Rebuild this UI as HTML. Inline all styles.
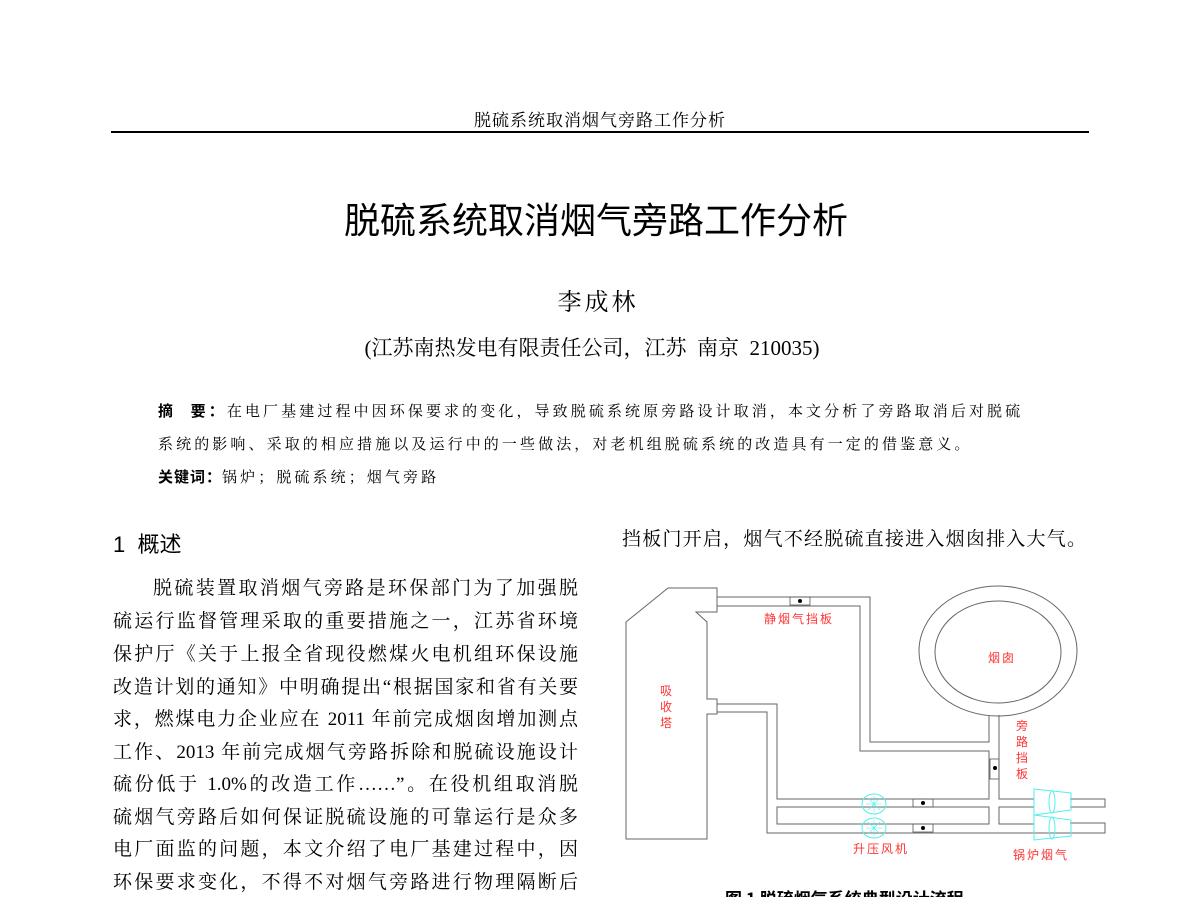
<!DOCTYPE html>
<html><head><meta charset="utf-8"><style>
body{margin:0;width:1200px;height:897px;background:#fff;position:relative;overflow:hidden;font-family:"Liberation Serif","Noto Serif CJK SC","Noto Sans CJK SC",serif;color:#000}
.a{position:absolute;white-space:nowrap}
.j{position:absolute;left:113px;width:465px;font-size:19px;text-align:justify;text-align-last:justify;white-space:nowrap;line-height:24px}
.sans{font-family:"Liberation Sans","Noto Sans CJK SC",sans-serif}
.ab{font-size:15px;letter-spacing:3.1px}
</style></head><body>
<div class="a" style="left:0;width:1200px;top:106px;text-align:center;font-size:17px;letter-spacing:1px">脱硫系统取消烟气旁路工作分析</div>
<div class="a" style="left:111px;top:131px;width:978px;height:2px;background:#000"></div>
<div class="a sans" style="left:0;width:1192px;top:192px;text-align:center;font-size:36px">脱硫系统取消烟气旁路工作分析</div>
<div class="a" style="left:0;width:1196px;top:282px;text-align:center;font-size:24px;letter-spacing:3px">李成林</div>
<div class="a" style="left:0;width:1184px;top:332px;text-align:center;font-size:21px">(江苏南热发电有限责任公司，江苏&nbsp; 南京&nbsp; 210035)</div>
<div class="a ab" style="left:158px;top:400px"><b class="sans">摘&nbsp;&nbsp;要：</b>在电厂基建过程中因环保要求的变化，导致脱硫系统原旁路设计取消，本文分析了旁路取消后对脱硫</div>
<div class="a ab" style="left:158px;top:433px">系统的影响、采取的相应措施以及运行中的一些做法，对老机组脱硫系统的改造具有一定的借鉴意义。</div>
<div class="a ab" style="left:158px;top:466px;letter-spacing:1px"><b class="sans">关键词：</b><span style="letter-spacing:3.1px">锅炉；脱硫系统；烟气旁路</span></div>
<div class="a sans" style="left:113px;top:527px;font-size:22px">1&nbsp; 概述</div>
<div class="j" style="top:577px;left:153px;width:425px">脱硫装置取消烟气旁路是环保部门为了加强脱</div>
<div class="j" style="top:610px">硫运行监督管理采取的重要措施之一，江苏省环境</div>
<div class="j" style="top:643px">保护厅《关于上报全省现役燃煤火电机组环保设施</div>
<div class="j" style="top:676px">改造计划的通知》中明确提出“根据国家和省有关要</div>
<div class="j" style="top:708px">求，燃煤电力企业应在 2011 年前完成烟囱增加测点</div>
<div class="j" style="top:741px">工作、2013 年前完成烟气旁路拆除和脱硫设施设计</div>
<div class="j" style="top:773px">硫份低于 1.0%的改造工作……”。在役机组取消脱</div>
<div class="j" style="top:806px">硫烟气旁路后如何保证脱硫设施的可靠运行是众多</div>
<div class="j" style="top:838px">电厂面监的问题，本文介绍了电厂基建过程中，因</div>
<div class="j" style="top:871px">环保要求变化，不得不对烟气旁路进行物理隔断后</div>
<div class="j" style="top:528px;left:622px;width:464px">挡板门开启，烟气不经脱硫直接进入烟囱排入大气。</div>
<svg class="a" style="left:0;top:0" width="1200" height="897" viewBox="0 0 1200 897">
<g fill="none" stroke="#666" stroke-width="1">
<polygon points="626,622 668,588 717,588 717,612 696,612 707,622 707,699 717,699 717,714 707,714 707,839 626,839"/>
<polyline points="717,597 870,597 870,742 989,742 989,715"/>
<polyline points="717,606 860,606 860,751 989,751 989,799 777,799 777,704 717,704"/>
<polyline points="717,712 767,712 767,833 1105,833 1105,823 1070,823"/>
<rect x="777" y="807" width="212" height="17"/>
<rect x="999" y="807" width="35" height="17"/>
<polyline points="999,715 999,799 1034,799"/>
<polyline points="1070,799 1105,799 1105,807 1070,807"/>
<ellipse cx="998" cy="651" rx="79" ry="65"/>
<ellipse cx="998" cy="652" rx="63" ry="51"/>
</g>
<g fill="none" stroke="#5ee" stroke-width="1">
<polygon points="1034,789 1071,793 1071,810 1034,815"/>
<polygon points="1034,815 1071,820 1071,836 1034,840"/>
<ellipse cx="1052" cy="802" rx="3" ry="11"/><ellipse cx="1052" cy="828" rx="3" ry="11"/>
<ellipse cx="874" cy="804" rx="12" ry="10"/><ellipse cx="874" cy="828" rx="12" ry="10"/>
<path d="M866,804h16M874,796v16M868,798l12,12M880,798l-12,12M866,828h16M874,820v16M868,822l12,12M880,822l-12,12" stroke-width="0.6"/>
</g>
<g stroke="#555" fill="none" stroke-width="0.8">
<rect x="790" y="597" width="20" height="8"/><rect x="913" y="799" width="20" height="8"/><rect x="913" y="824" width="20" height="8"/><rect x="990" y="759" width="9" height="20"/>
</g>
<g fill="#000"><circle cx="800" cy="601" r="2"/><circle cx="923" cy="803" r="2"/><circle cx="923" cy="828" r="2"/><circle cx="995" cy="768" r="2"/></g>
<g fill="#f33" font-size="12" font-family="Noto Sans CJK SC,sans-serif" letter-spacing="2">
<text x="764" y="623">静烟气挡板</text>
<text x="988" y="662">烟囱</text>
<text x="660" y="695">吸</text><text x="660" y="711">收</text><text x="660" y="727">塔</text>
<text x="1016" y="730">旁</text><text x="1016" y="746">路</text><text x="1016" y="762">挡</text><text x="1016" y="778">板</text>
<text x="853" y="853">升压风机</text>
<text x="1013" y="859">锅炉烟气</text>
</g>
<text x="725" y="905" font-size="17" font-weight="bold" font-family="Noto Sans CJK SC,sans-serif">图 1  脱硫烟气系统典型设计流程</text>
</svg>
</body></html>
